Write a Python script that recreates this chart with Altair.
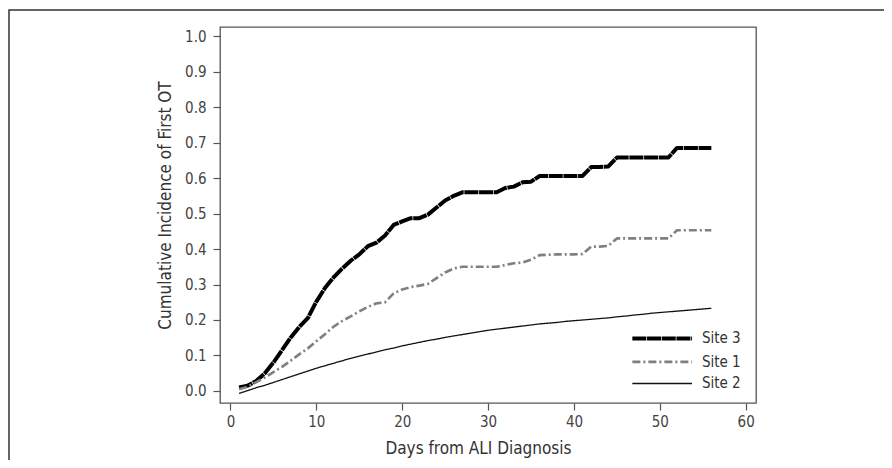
import altair as alt
import pandas as pd

days = list(range(1, 57))
site3 = [0.010, 0.015, 0.028, 0.050, 0.080, 0.115, 0.150, 0.180, 0.205, 0.252,
         0.290, 0.320, 0.345, 0.367, 0.385, 0.408, 0.418, 0.438, 0.468, 0.478,
         0.487, 0.487, 0.497, 0.517, 0.537, 0.550, 0.560, 0.560, 0.560, 0.560,
         0.560, 0.572, 0.576, 0.588, 0.590, 0.606, 0.606, 0.606, 0.606, 0.606,
         0.606, 0.631, 0.631, 0.633, 0.658, 0.658, 0.658, 0.658, 0.658, 0.658,
         0.658, 0.685, 0.685, 0.685, 0.685, 0.685]
site1 = [0.005, 0.012, 0.025, 0.038, 0.053, 0.068, 0.085, 0.103, 0.120, 0.140,
         0.160, 0.181, 0.197, 0.210, 0.224, 0.237, 0.247, 0.250, 0.275, 0.286,
         0.293, 0.297, 0.302, 0.318, 0.334, 0.345, 0.350, 0.350, 0.350, 0.350,
         0.350, 0.355, 0.360, 0.362, 0.370, 0.383, 0.384, 0.385, 0.385, 0.385,
         0.386, 0.407, 0.407, 0.409, 0.430, 0.430, 0.430, 0.430, 0.430, 0.430,
         0.430, 0.453, 0.453, 0.453, 0.453, 0.453]
site2 = [-0.007, 0.001, 0.009, 0.016, 0.024, 0.032, 0.040, 0.048, 0.056, 0.064,
         0.071, 0.078, 0.085, 0.092, 0.098, 0.104, 0.110, 0.116, 0.121, 0.127,
         0.132, 0.137, 0.142, 0.146, 0.151, 0.155, 0.159, 0.163, 0.167, 0.171,
         0.174, 0.177, 0.180, 0.183, 0.186, 0.189, 0.191, 0.193, 0.196, 0.198,
         0.200, 0.202, 0.204, 0.206, 0.209, 0.211, 0.214, 0.216, 0.219, 0.221,
         0.223, 0.225, 0.227, 0.229, 0.231, 0.233]

series_names = ["Site 3", "Site 1", "Site 2"]
x_ticks = [0, 10, 20, 30, 40, 50, 60]
y_ticks = [0.0, 0.1, 0.2, 0.3, 0.4, 0.5, 0.6, 0.7, 0.8, 0.9, 1.0]

rows = []
for name, vals in zip(series_names, [site3, site1, site2]):
    for d, v in zip(days, vals):
        rows.append({"day": d, "value": v, "site": name})
df = pd.DataFrame(rows)

# legend placement (in axis units), drawn through the same scales
LEG_X0, LEG_X1, LEG_TX = 46.8, 53.75, 54.9
LEG_Y = [0.148, 0.082, 0.021]
leg_rows = []
for name, ly in zip(series_names, LEG_Y):
    leg_rows.append({"day": LEG_X0, "value": ly, "site": name})
    leg_rows.append({"day": LEG_X1, "value": ly, "site": name})
leg_df = pd.DataFrame(leg_rows)
leg_txt = pd.DataFrame({"day": [LEG_TX] * 3, "value": LEG_Y, "site": series_names})

FONT = "Liberation Sans Narrow, DejaVu Sans Condensed, Arial Narrow, sans-serif"

x_enc = alt.X("day:Q",
              scale=alt.Scale(domain=[-1.22, 61.2], nice=False, zero=False),
              axis=alt.Axis(values=x_ticks, title="Days from ALI Diagnosis",
                            titleX=258, titleY=50, titleAlign="center",
                            titleBaseline="alphabetic", labelPadding=4,
                            labelOverlap=False))
y_enc = alt.Y("value:Q",
              scale=alt.Scale(domain=[-0.034, 1.026], nice=False, zero=False),
              axis=alt.Axis(values=y_ticks, format=".1f",
                            title="Cumulative Incidence of First OT",
                            titleX=-50, titleY=178, titleAngle=270,
                            titleAlign="center", titleBaseline="alphabetic",
                            labelPadding=7, labelOverlap=False))
color_enc = alt.Color("site:N",
                      scale=alt.Scale(domain=series_names,
                                      range=["#000000", "#808080", "#111111"]),
                      legend=None)
dash_enc = alt.StrokeDash("site:N",
                          scale=alt.Scale(domain=series_names,
                                          range=[[14, 0.7], [8, 3, 2, 3], [1, 0]]),
                          legend=None)
width_enc = alt.StrokeWidth("site:N",
                            scale=alt.Scale(domain=series_names,
                                            range=[4, 1.3, 1.4]),
                            legend=None)

lines = alt.Chart(df).mark_line(strokeCap="butt", strokeJoin="round").encode(
    x=x_enc, y=y_enc, color=color_enc, strokeDash=dash_enc,
    strokeWidth=width_enc, order=alt.Order("day:Q"),
)

legend_lines = alt.Chart(leg_df).mark_line(strokeCap="butt").encode(
    x=x_enc, y=y_enc, color=color_enc, strokeDash=dash_enc,
    strokeWidth=width_enc,
)

legend_text = alt.Chart(leg_txt).mark_text(
    align="left", baseline="middle", font=FONT, fontSize=15, color="#333333"
).encode(x=x_enc, y=y_enc, text="site:N")

frame = alt.Chart(pd.DataFrame({"a": [0]})).mark_rect(
    fill=None, stroke="#333333", strokeWidth=1.5
).encode(
    x=alt.value(-211), x2=alt.value(666), y=alt.value(-17), y2=alt.value(480)
)

chart = alt.layer(lines, legend_lines, legend_text, frame).properties(
    width=536, height=376,
    autosize=alt.AutoSizeParams(type="none"),
    padding={"left": 212, "top": 19, "right": 128, "bottom": 57},
).configure_view(
    stroke="#555555", strokeWidth=1.3
).configure_axis(
    domain=False, grid=False, ticks=True, tickSize=7, tickColor="#555555",
    tickWidth=1.2, labelFont=FONT, labelFontSize=15, labelColor="#444444",
    titleFont=FONT, titleFontSize=17, titleColor="#333333", titleFontWeight="normal"
)

chart.save("out.html", embed_options={"renderer": "svg", "actions": False})
